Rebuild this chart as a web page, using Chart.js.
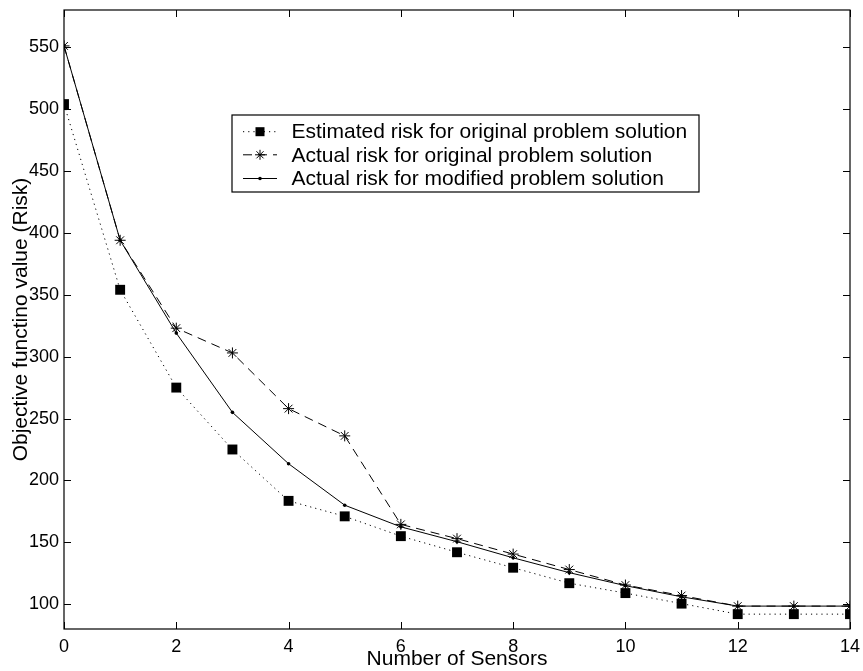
<!DOCTYPE html>
<html>
<head>
<meta charset="utf-8">
<script src="https://cdn.jsdelivr.net/npm/chart.js@4/dist/chart.umd.min.js"></script>
<style>
  html, body { margin: 0; padding: 0; background: #fff; }
  #wrap { width: 863px; height: 671px; position: relative; }
</style>
</head>
<body>
<div id="wrap"><canvas id="c" width="863" height="671"></canvas></div>
<script>
// ---- data ----
const sensors = [0, 1, 2, 3, 4, 5, 6, 7, 8, 9, 10, 11, 12, 13, 14];
const estimatedRisk = [504, 354, 275, 225, 183.5, 171, 155, 142, 129.5, 117, 109, 100.5, 92, 92, 92];
const actualRiskOriginal = [551, 394, 323, 303, 258, 236, 164.5, 153, 140.5, 128, 115.5, 107, 98.5, 98.5, 98.5];
const actualRiskModified = [551, 394, 319, 255, 213.5, 180, 162.5, 150.5, 137.5, 125.5, 115, 106, 98.5, 98.5, 98.5];
const seriesLabels = [
  'Estimated risk for original problem solution',
  'Actual risk for original problem solution',
  'Actual risk for modified problem solution'
];
const xTickValues = [0, 2, 4, 6, 8, 10, 12, 14];
const yTickValues = [100, 150, 200, 250, 300, 350, 400, 450, 500, 550];
const xTitle = 'Number of Sensors';
const yTitle = 'Objective functino value (Risk)';

const FONT = "'Liberation Sans', Arial, Helvetica, sans-serif";
const toXY = ys => sensors.map((x, i) => ({ x: x, y: ys[i] }));

const framePlugin = {
  id: 'frame',
  afterDraw(chart) {
    const ctx = chart.ctx;
    const a = chart.chartArea;
    const xs = chart.scales.x, ys = chart.scales.y;
    ctx.save();
    ctx.strokeStyle = '#000';
    ctx.lineWidth = 1.2;
    ctx.strokeRect(a.left, a.top, a.right - a.left, a.bottom - a.top);
    const tl = 7;
    ctx.lineWidth = 1;
    ctx.beginPath();
    xTickValues.forEach(v => {
      const px = Math.round(xs.getPixelForValue(v)) + 0.5;
      ctx.moveTo(px, a.bottom); ctx.lineTo(px, a.bottom - tl);
      ctx.moveTo(px, a.top); ctx.lineTo(px, a.top + tl);
    });
    yTickValues.forEach(v => {
      const py = Math.round(ys.getPixelForValue(v)) + 0.5;
      ctx.moveTo(a.left, py); ctx.lineTo(a.left + tl, py);
      ctx.moveTo(a.right, py); ctx.lineTo(a.right - tl, py);
    });
    ctx.stroke();

    // axis titles
    ctx.fillStyle = '#000';
    ctx.font = '21px ' + FONT;
    ctx.textAlign = 'center';
    ctx.textBaseline = 'alphabetic';
    ctx.fillText(xTitle, (a.left + a.right) / 2, 665);
    ctx.save();
    ctx.translate(27, (a.top + a.bottom) / 2);
    ctx.rotate(-Math.PI / 2);
    ctx.fillText(yTitle, 0, 0);
    ctx.restore();

    // legend
    const bx = 232, by = 115, bw = 467, bh = 77;
    ctx.fillStyle = '#fff';
    ctx.fillRect(bx, by, bw, bh);
    ctx.lineWidth = 1.2;
    ctx.strokeStyle = '#000';
    ctx.strokeRect(bx, by, bw, bh);
    const rows = [131.7, 154.8, 178.5];
    const x0 = 243, x1 = 277, xm = 260;
    chart.data.datasets.forEach((ds, i) => {
      const y = rows[i];
      ctx.save();
      ctx.strokeStyle = '#000';
      ctx.lineWidth = 1;
      ctx.setLineDash(ds.borderDash || []);
      ctx.beginPath();
      ctx.moveTo(x0, y); ctx.lineTo(x1, y);
      ctx.stroke();
      ctx.setLineDash([]);
      ctx.fillStyle = '#000';
      if (ds.pointStyle === 'rect') {
        ctx.fillRect(xm - 4.5, y - 4.5, 9, 9);
      } else if (ds.pointStyle === 'star') {
        const r = 5;
        const d = r * Math.SQRT1_2;
        ctx.beginPath();
        ctx.moveTo(xm - r, y); ctx.lineTo(xm + r, y);
        ctx.moveTo(xm, y - r); ctx.lineTo(xm, y + r);
        ctx.moveTo(xm - d, y - d); ctx.lineTo(xm + d, y + d);
        ctx.moveTo(xm - d, y + d); ctx.lineTo(xm + d, y - d);
        ctx.stroke();
      } else {
        ctx.beginPath();
        ctx.arc(xm, y, 1.8, 0, Math.PI * 2);
        ctx.fill();
      }
      ctx.restore();
      ctx.fillStyle = '#000';
      ctx.font = '21px ' + FONT;
      ctx.textAlign = 'left';
      ctx.textBaseline = 'middle';
      ctx.fillText(ds.label, 291.5, y + 1);
    });
    ctx.restore();
  }
};

new Chart(document.getElementById('c'), {
  type: 'line',
  data: {
    datasets: [
      {
        label: seriesLabels[0],
        data: toXY(estimatedRisk),
        borderColor: '#000',
        borderWidth: 1,
        borderDash: [1.2, 4],
        pointStyle: 'rect',
        pointRadius: 7,
        pointBackgroundColor: '#000',
        pointBorderColor: '#000',
        pointBorderWidth: 0,
        tension: 0
      },
      {
        label: seriesLabels[1],
        data: toXY(actualRiskOriginal),
        borderColor: '#000',
        borderWidth: 1,
        borderDash: [9, 6],
        pointStyle: 'star',
        pointRadius: 5.5,
        pointBackgroundColor: '#000',
        pointBorderColor: '#000',
        pointBorderWidth: 1,
        tension: 0
      },
      {
        label: seriesLabels[2],
        data: toXY(actualRiskModified),
        borderColor: '#000',
        borderWidth: 1,
        pointStyle: 'circle',
        pointRadius: 1.8,
        pointBackgroundColor: '#000',
        pointBorderColor: '#000',
        pointBorderWidth: 0,
        tension: 0
      }
    ]
  },
  options: {
    responsive: false,
    animation: false,
    layout: { padding: { top: 10, right: 13, left: 0, bottom: 0 } },
    plugins: {
      legend: { display: false },
      tooltip: { enabled: false },
      title: { display: false }
    },
    scales: {
      x: {
        type: 'linear',
        min: 0, max: 14,
        grid: { display: false, drawTicks: false },
        border: { display: false },
        afterBuildTicks: s => { s.ticks = xTickValues.map(v => ({ value: v })); },
        afterFit: s => { s.height = 42; s.paddingLeft = 0; s.paddingRight = 0; },
        ticks: {
          color: '#000',
          font: { family: FONT, size: 18 },
          padding: 7,
          maxRotation: 0,
          autoSkip: false
        }
      },
      y: {
        type: 'linear',
        min: 80, max: 580,
        grid: { display: false, drawTicks: false },
        border: { display: false },
        afterBuildTicks: s => { s.ticks = yTickValues.map(v => ({ value: v })); },
        afterFit: s => { s.width = 64; s.paddingTop = 0; s.paddingBottom = 0; },
        ticks: {
          color: '#000',
          font: { family: FONT, size: 18 },
          padding: 5,
          autoSkip: false
        }
      }
    }
  },
  plugins: [framePlugin]
});
</script>
</body>
</html>
